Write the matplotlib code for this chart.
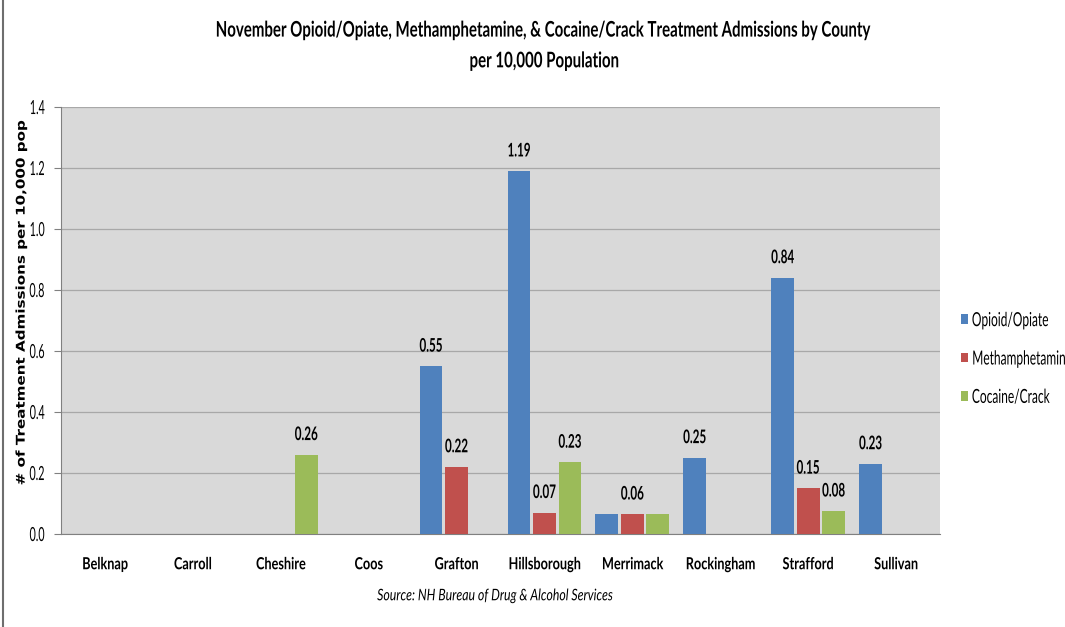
import numpy as np
import matplotlib.pyplot as plt
from matplotlib.patches import Rectangle
from matplotlib.transforms import Affine2D
import matplotlib.patheffects as pe

counties = ['Belknap', 'Carroll', 'Cheshire', 'Coos', 'Grafton',
            'Hillsborough', 'Merrimack', 'Rockingham', 'Strafford', 'Sullivan']
opioid = [0, 0, 0, 0, 0.55, 1.19, 0.065, 0.25, 0.84, 0.23]
meth = [0, 0, 0, 0, 0.22, 0.07, 0.065, 0, 0.15, 0]
cocaine = [0, 0, 0.26, 0, 0, 0.235, 0.065, 0, 0.075, 0]
# data labels as shown on the chart ('' = no label)
opioid_lbl = ['', '', '', '', '0.55', '1.19', '', '0.25', '0.84', '0.23']
meth_lbl = ['', '', '', '', '0.22', '0.07', '0.06', '', '0.15', '']
cocaine_lbl = ['', '', '0.26', '', '', '0.23', '', '', '0.08', '']
series = ['Opioid/Opiate', 'Methamphetamine', 'Cocaine/Crack']
colors = ['#4F81BD', '#C0504D', '#9BBB59']

FONT = ['Lato', 'DejaVu Sans']


class Squeeze(pe.AbstractPathEffect):
    # narrows a text horizontally (the source uses a condensed font)
    def __init__(self, sx, anchor='center'):
        super().__init__()
        self.sx = sx
        self.anchor = anchor

    def draw_path(self, renderer, gc, tpath, affine, rgbFace=None):
        ext = tpath.get_extents(affine)
        if self.anchor == 'left':
            cx = ext.x0
        elif self.anchor == 'right':
            cx = ext.x1
        else:
            cx = (ext.x0 + ext.x1) / 2
        aff = affine + Affine2D().translate(-cx, 0).scale(self.sx, 1).translate(cx, 0)
        renderer.draw_path(gc, tpath, aff, rgbFace)


fig = plt.figure(figsize=(10.65, 6.27), dpi=100)
ax = fig.add_axes([0.0573, 0.1483, 0.8253, 0.681])
ax.set_facecolor('#D9D9D9')

x = np.arange(len(counties))
w = 0.26
step = 0.29
data_texts = []
for i, (vals, lbls) in enumerate([(opioid, opioid_lbl), (meth, meth_lbl), (cocaine, cocaine_lbl)]):
    pos = x + (i - 1) * step
    ax.bar(pos, vals, width=w, color=colors[i], label=series[i], zorder=3)
    for p, v, t in zip(pos, vals, lbls):
        if t:
            data_texts.append(ax.text(p, v + 0.048, t, ha='center', va='baseline',
                                      fontsize=13.5, fontweight='bold', family=FONT))

ax.set_xlim(-0.5, len(counties) - 0.5)
ax.set_ylim(0, 1.4)
yt = np.arange(0, 1.41, 0.2)
ax.set_yticks(yt)
ax.set_yticklabels(['%.1f' % t for t in yt], family=FONT, fontsize=14)
ax.yaxis.grid(True, color='#A8A8A8', linewidth=0.9, zorder=0)
ax.set_xticks(x)
ax.set_xticklabels(counties, family=FONT, fontsize=12, fontweight='bold')
ax.tick_params(axis='x', length=0, pad=16)
ax.tick_params(axis='y', length=5, color='#808080', pad=6.5)
for s in ['top', 'right']:
    ax.spines[s].set_visible(False)
ax.spines['left'].set_color('#808080')
ax.spines['bottom'].set_color('#808080')

ylab = fig.text(0.0197, 1 - 303 / 627, '# of Treatment Admissions per 10,000 pop',
                rotation=90, ha='center', va='center', fontsize=10.9, fontweight='bold')

t1 = fig.text(0.5085, 0.952, 'November Opioid/Opiate, Methamphetamine, & Cocaine/Crack Treatment Admissions by County',
              ha='center', va='center', fontsize=15.5, fontweight='bold', family=FONT)
t2 = fig.text(0.5107, 0.903, 'per 10,000 Population', ha='center', va='center',
              fontsize=15.5, fontweight='bold', family=FONT)
src = fig.text(0.465, 0.049, 'Source: NH Bureau of Drug & Alcohol Services', ha='center',
               va='center', fontsize=11.5, style='italic', family=FONT)

handles, labels = ax.get_legend_handles_labels()
leg = fig.legend(handles, labels, loc='center left', bbox_to_anchor=(0.902, 0.4274),
                 frameon=False, borderpad=0, borderaxespad=0,
                 handlelength=0.38, handleheight=0.38, handletextpad=0.18,
                 labelspacing=1.1, prop={'family': FONT, 'size': 14})

fig.add_artist(Rectangle((0.003, -0.01), 2, 2, transform=fig.transFigure,
                         fill=False, edgecolor='#6E6E6E', linewidth=1.5))

# fit text widths to the condensed look of the source
fig.canvas.draw()
r = fig.canvas.get_renderer()


def fit(texts, ref, target, anchor='center'):
    sx = target / ref.get_window_extent(r).width
    for t in texts:
        t.set_path_effects([Squeeze(sx, anchor)])


fit([t1], t1, 653)
fit([t2], t2, 149)
fit([src], src, 236)
xl = ax.get_xticklabels()
fit(xl, xl[5], 72)
yl = ax.get_yticklabels()
fit(yl, yl[-1], 15, 'right')
fit(data_texts, data_texts[0], 23)
lt = leg.get_texts()
fit(lt, lt[0], 77, 'left')
ylab.set_path_effects([Squeeze(0.8)])

fig.savefig('out.png', dpi=100)
